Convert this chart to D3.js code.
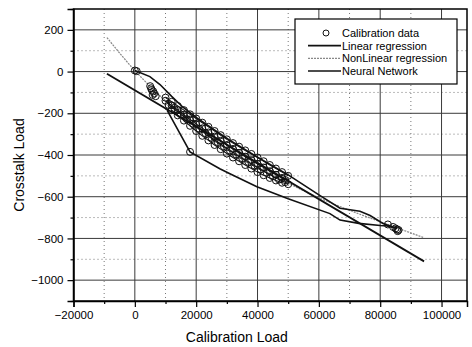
<!DOCTYPE html>
<html>
<head>
<meta charset="utf-8">
<script src="https://cdn.jsdelivr.net/npm/d3@7"></script>
<style>
  body { margin: 0; background: #fff; }
  svg { font-family: "Liberation Sans", Arial, sans-serif; }
</style>
</head>
<body>
<div id="chart"></div>
<script>
// calibration samples [load, crosstalk]
const calibrationStart = [
  [0, 5], [600, 2],
  [5000, -70], [5300, -80], [5500, -88], [6000, -95], [6300, -105], [5800, -112], [6800, -118]
];

// four loading ramps that make up the dense band
const calibrationRampA = [
  [10000, -125], [12000, -145], [14000, -165], [16000, -185], [18000, -205], [20000, -225],
  [22000, -245], [24000, -265], [26000, -285], [28000, -305], [30000, -325], [32000, -343],
  [34000, -360], [36000, -378], [38000, -395], [40000, -412], [42000, -430], [44000, -448],
  [46000, -465], [48000, -482], [50000, -500]
];
const calibrationRampB = [
  [10000, -140], [12000, -162], [14000, -185], [16000, -208], [18000, -230], [20000, -251],
  [22000, -272], [24000, -292], [26000, -312], [28000, -332], [30000, -352], [32000, -371],
  [34000, -390], [36000, -408], [38000, -425], [40000, -443], [42000, -460], [44000, -478],
  [46000, -495], [48000, -510], [49000, -520]
];
const calibrationRampC = [
  [11000, -160], [13000, -182], [15000, -205], [17000, -228], [19000, -250], [21000, -273],
  [23000, -295], [25000, -317], [27000, -338], [29000, -358], [31000, -378], [33000, -397],
  [35000, -415], [37000, -433], [39000, -450], [41000, -468], [43000, -485], [45000, -502],
  [47000, -518], [49000, -530], [50000, -540]
];
const calibrationRampD = [
  [12000, -185], [14000, -210], [16000, -235], [18000, -260], [20000, -285], [22000, -308],
  [24000, -330], [26000, -352], [28000, -372], [30000, -393], [32000, -412], [34000, -430],
  [36000, -448], [38000, -465], [40000, -482], [42000, -497], [44000, -510], [46000, -522],
  [48000, -533]
];
const calibrationEnd = [
  [18000, -385],
  [82500, -733], [84200, -745], [85000, -752], [85500, -757], [86000, -760], [85700, -765]
];

const linearRegression = [[-9100, -10], [94300, -910]];

const nonLinearRegression = [
  [-9100, 163], [0, 5], [10000, -140], [20000, -260], [30000, -365], [40000, -455],
  [50000, -535], [60000, -605], [70000, -665], [80000, -720], [94000, -795]
];

const neuralNetworkUpper = [
  [0, 5], [4900, -24], [8200, -62], [12000, -119], [15700, -171], [20000, -220],
  [30000, -320], [40000, -410], [50000, -495], [60400, -595], [66900, -655],
  [73400, -670], [76700, -690], [80900, -728], [85500, -752]
];

const neuralNetworkLower = [
  [10500, -185], [18000, -385], [27700, -466], [31000, -490], [39800, -552],
  [50000, -610], [63600, -681], [66900, -712], [73000, -728], [80000, -738],
  [82200, -740], [85500, -752]
];

const xTicks = [-20000, 0, 20000, 40000, 60000, 80000, 100000];
const xMinorTicks = [-10000, 10000, 30000, 50000, 70000, 90000];
const yTicks = [-1000, -800, -600, -400, -200, 0, 200];
const yMinorTicks = [-1100, -900, -700, -500, -300, -100, 100, 300];

const legendItems = ['Calibration data', 'Linear regression', 'NonLinear regression', 'Neural Network'];

const calibrationRamps = [calibrationRampA, calibrationRampB, calibrationRampC, calibrationRampD];
const calibrationData = [].concat(calibrationStart, ...calibrationRamps, calibrationEnd);

const width = 472;
const height = 347;
const margin = {top: 9, right: 5, bottom: 46, left: 73.5};
const innerW = width - margin.left - margin.right;
const innerH = height - margin.top - margin.bottom;

const x = d3.scaleLinear().domain([-20000, 108300]).range([0, innerW]);
const y = d3.scaleLinear().domain([-1100, 300]).range([innerH, 0]);

const svg = d3.select('#chart')
  .append('svg')
  .attr('width', width)
  .attr('height', height);

const g = svg.append('g')
  .attr('transform', `translate(${margin.left},${margin.top})`);

// minor dotted grid
g.append('g')
  .selectAll('line')
  .data(xMinorTicks)
  .enter()
  .append('line')
  .attr('x1', d => x(d)).attr('x2', d => x(d))
  .attr('y1', 0).attr('y2', innerH)
  .attr('stroke', '#777').attr('stroke-width', 1).attr('stroke-dasharray', '1,3');

g.append('g')
  .selectAll('line')
  .data(yMinorTicks.filter(d => d > -1100 && d < 300))
  .enter()
  .append('line')
  .attr('y1', d => y(d)).attr('y2', d => y(d))
  .attr('x1', 0).attr('x2', innerW)
  .attr('stroke', '#777').attr('stroke-width', 1).attr('stroke-dasharray', '1,3');

// major solid grid
g.append('g')
  .selectAll('line')
  .data(xTicks.slice(1))
  .enter()
  .append('line')
  .attr('x1', d => x(d)).attr('x2', d => x(d))
  .attr('y1', 0).attr('y2', innerH)
  .attr('stroke', '#3a3a3a').attr('stroke-width', 1);

g.append('g')
  .selectAll('line')
  .data(yTicks)
  .enter()
  .append('line')
  .attr('y1', d => y(d)).attr('y2', d => y(d))
  .attr('x1', 0).attr('x2', innerW)
  .attr('stroke', '#3a3a3a').attr('stroke-width', 1);

// frame
g.append('rect')
  .attr('width', innerW).attr('height', innerH)
  .attr('fill', 'none').attr('stroke', '#000').attr('stroke-width', 1.5);

// axes
const xAxis = g.append('g')
  .attr('transform', `translate(0,${innerH})`)
  .call(d3.axisBottom(x).tickValues(xTicks).tickSize(6).tickPadding(4).tickFormat(d3.format('d')));
g.append('g')
  .attr('transform', `translate(0,${innerH})`)
  .call(d3.axisBottom(x).tickValues(xMinorTicks).tickSize(3).tickFormat(''))
  .select('.domain').remove();

const yAxis = g.append('g')
  .call(d3.axisLeft(y).tickValues(yTicks).tickSize(6).tickPadding(4).tickFormat(d3.format('d')));
g.append('g')
  .call(d3.axisLeft(y).tickValues(yMinorTicks).tickSize(3).tickFormat(''))
  .select('.domain').remove();

[xAxis, yAxis].forEach(a => {
  a.select('.domain').attr('stroke-width', 1.5);
  a.selectAll('text').attr('font-size', 11.5).attr('fill', '#000')
    .attr('font-family', '"Liberation Sans", Arial, sans-serif');
});
g.selectAll('.tick line').attr('stroke-width', 1.2);

const straight = d3.line().x(d => x(d[0])).y(d => y(d[1]));
const smooth = d3.line().x(d => x(d[0])).y(d => y(d[1])).curve(d3.curveMonotoneX);

// nonlinear regression
g.append('path')
  .datum(nonLinearRegression)
  .attr('d', smooth)
  .attr('fill', 'none').attr('stroke', '#888').attr('stroke-width', 1.2).attr('stroke-dasharray', '2,1');

// linear regression
g.append('path')
  .datum(linearRegression)
  .attr('d', straight)
  .attr('fill', 'none').attr('stroke', '#111').attr('stroke-width', 1.8);

// neural network
[neuralNetworkUpper, neuralNetworkLower].forEach(s => {
  g.append('path')
    .datum(s)
    .attr('d', straight)
    .attr('fill', 'none').attr('stroke', '#111').attr('stroke-width', 1.6);
});

// neural network trace through each loading ramp
calibrationRamps.forEach(s => {
  g.append('path')
    .datum(s)
    .attr('d', straight)
    .attr('fill', 'none').attr('stroke', '#111').attr('stroke-width', 1.1);
});

// calibration circles
g.append('g')
  .selectAll('circle')
  .data(calibrationData)
  .enter()
  .append('circle')
  .attr('cx', d => x(d[0]))
  .attr('cy', d => y(d[1]))
  .attr('r', 3.5)
  .attr('fill', 'none')
  .attr('stroke', '#111')
  .attr('stroke-width', 1);

// legend
const legend = g.append('g')
  .attr('transform', `translate(${295 - margin.left},${19 - margin.top})`);

legend.append('rect')
  .attr('width', 162).attr('height', 65)
  .attr('fill', '#fff').attr('stroke', '#000').attr('stroke-width', 1.2);

const rowY = d3.scalePoint().domain(legendItems).range([14, 52]);

legend.append('circle')
  .attr('cx', 31).attr('cy', rowY(legendItems[0]))
  .attr('r', 3).attr('fill', 'none').attr('stroke', '#111');

legend.append('line')
  .attr('x1', 13).attr('x2', 46)
  .attr('y1', rowY(legendItems[1])).attr('y2', rowY(legendItems[1]))
  .attr('stroke', '#111').attr('stroke-width', 1.8);
legend.append('line')
  .attr('x1', 13).attr('x2', 46)
  .attr('y1', rowY(legendItems[2])).attr('y2', rowY(legendItems[2]))
  .attr('stroke', '#888').attr('stroke-width', 1.2).attr('stroke-dasharray', '2,1');
legend.append('line')
  .attr('x1', 13).attr('x2', 46)
  .attr('y1', rowY(legendItems[3])).attr('y2', rowY(legendItems[3]))
  .attr('stroke', '#111').attr('stroke-width', 1.6);

legend.selectAll('text.item')
  .data(legendItems)
  .enter()
  .append('text')
  .attr('class', 'item')
  .attr('x', 47)
  .attr('y', d => rowY(d) + 4)
  .attr('font-size', 11)
  .text(d => d);

// axis titles
svg.append('text')
  .attr('x', margin.left + x(30000) + 10)
  .attr('y', 342)
  .attr('text-anchor', 'middle')
  .attr('font-size', 14)
  .text('Calibration Load');

svg.append('text')
  .attr('transform', `translate(24,${margin.top + innerH / 2 + 10}) rotate(-90)`)
  .attr('text-anchor', 'middle')
  .attr('font-size', 14)
  .text('Crosstalk Load');
</script>
</body>
</html>
